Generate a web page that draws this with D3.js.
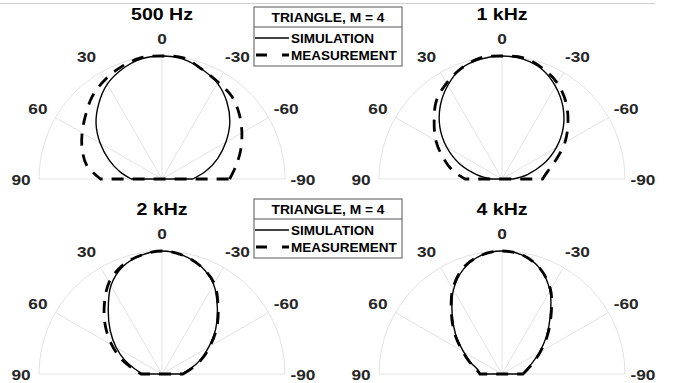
<!DOCTYPE html>
<html>
<head>
<meta charset="utf-8">
<script src="https://cdn.jsdelivr.net/npm/d3@7"></script>
<style>
    body { margin: 0; background: #fff; }
    svg { display: block; }
    text { font-family: "Liberation Sans", Arial, sans-serif; font-weight: bold; }
</style>
</head>
<body>
<script>
'use strict';

// angle in degrees, positive to the left of 0
var angles = [-90, -80, -70, -60, -50, -40, -30, -20, -10, 0, 10, 20, 30, 40, 50, 60, 70, 80, 90];
var thetaTicks = [-90, -60, -30, 0, 30, 60, 90];
var frequencies = ['500 Hz', '1 kHz', '2 kHz', '4 kHz'];
var seriesNames = ['SIMULATION', 'MEASUREMENT'];
var legendTitle = 'TRIANGLE, M = 4';

// normalized magnitude, one value per angle
var sim500 = [0.25, 0.36, 0.48, 0.60, 0.72, 0.82, 0.90, 0.95, 0.99, 1.00, 0.99, 0.95, 0.89, 0.80, 0.70, 0.58, 0.46, 0.35, 0.25];
var meas500 = [0.55, 0.61, 0.68, 0.75, 0.82, 0.88, 0.91, 0.95, 1.00, 1.00, 1.00, 0.97, 0.93, 0.88, 0.81, 0.75, 0.69, 0.62, 0.50];
var sim1k = [0.09, 0.21, 0.36, 0.51, 0.65, 0.77, 0.87, 0.95, 0.99, 1.00, 0.99, 0.96, 0.88, 0.78, 0.66, 0.52, 0.37, 0.21, 0.09];
var meas1k = [0.33, 0.38, 0.47, 0.59, 0.70, 0.81, 0.90, 0.96, 1.00, 1.00, 1.00, 0.96, 0.90, 0.83, 0.72, 0.62, 0.51, 0.41, 0.30];
var sim2k = [0.16, 0.23, 0.33, 0.44, 0.57, 0.70, 0.84, 0.93, 0.98, 1.00, 0.98, 0.93, 0.83, 0.68, 0.55, 0.43, 0.32, 0.22, 0.16];
var meas2k = [0.17, 0.24, 0.34, 0.45, 0.58, 0.71, 0.85, 0.93, 0.98, 1.00, 0.98, 0.94, 0.86, 0.73, 0.60, 0.47, 0.35, 0.24, 0.17];
var sim4k = [0.17, 0.20, 0.26, 0.35, 0.47, 0.61, 0.78, 0.91, 0.98, 1.00, 0.98, 0.91, 0.79, 0.63, 0.49, 0.36, 0.27, 0.20, 0.18];
var meas4k = [0.17, 0.21, 0.27, 0.36, 0.48, 0.62, 0.79, 0.91, 0.98, 1.00, 0.98, 0.92, 0.80, 0.64, 0.50, 0.37, 0.28, 0.21, 0.18];

var WIDTH = 679;
var HEIGHT = 383;
var R = 123;
var LABEL_R = 141;
var SX = 1.15; // text in the picture is drawn a bit wide

var panels = [
    { title: frequencies[0], sim: sim500, meas: meas500, cx: 162, cy: 179, ty: 20 },
    { title: frequencies[1], sim: sim1k, meas: meas1k, cx: 502, cy: 179, ty: 20 },
    { title: frequencies[2], sim: sim2k, meas: meas2k, cx: 162, cy: 374, ty: 215 },
    { title: frequencies[3], sim: sim4k, meas: meas4k, cx: 502, cy: 374, ty: 215 }
];
var legends = [{ x: 254, y: 7 }, { x: 254, y: 199 }];

var svg = d3.select('body').append('svg').attr('width', WIDTH).attr('height', HEIGHT);

var rScale = d3.scaleLinear().domain([0, 1]).range([0, R]);
// lineRadial angles run clockwise from 12 o'clock, ours run the other way
var aScale = d3.scaleLinear().domain([-90, 90]).range([Math.PI / 2, -Math.PI / 2]);

function label(sel, x, y, str, size, color) {
    return sel.append('text')
        .attr('transform', 'translate(' + x + ',' + y + ') scale(' + SX + ',1)')
        .attr('text-anchor', 'middle')
        .attr('font-size', size)
        .attr('fill', color || '#000')
        .text(str);
}

function curve(values) {
    var line = d3.lineRadial()
        .angle(function (d) { return aScale(d[0]); })
        .radius(function (d) { return rScale(d[1]); })
        .curve(d3.curveCatmullRom);
    // close along the 90 / -90 base line
    return line(d3.zip(angles, values)) + 'Z';
}

// thin frame line along the top of the figure
svg.append('line').attr('x1', 0).attr('x2', 655).attr('y1', 3.5).attr('y2', 3.5)
    .attr('stroke', '#cfcfcf').attr('stroke-width', 1);

panels.forEach(function (p) {
    var g = svg.append('g').attr('transform', 'translate(' + p.cx + ',' + p.cy + ')');

    // grid
    var arc = d3.path();
    arc.arc(0, 0, R, Math.PI, 2 * Math.PI);
    g.append('path').attr('d', arc.toString()).attr('fill', 'none')
        .attr('stroke', '#e3e3e3').attr('stroke-width', 1);
    g.selectAll('.spoke').data(thetaTicks).enter().append('line')
        .attr('class', 'spoke')
        .attr('x1', 0).attr('y1', 0)
        .attr('x2', function (d) { return R * Math.sin(aScale(d)); })
        .attr('y2', function (d) { return -R * Math.cos(aScale(d)); })
        .attr('stroke', '#e3e3e3').attr('stroke-width', 1);

    // theta labels, the +-30 ones sit a little further out
    thetaTicks.forEach(function (t) {
        var a = aScale(t);
        var nudge = Math.abs(t) === 30 ? 5 : (Math.abs(t) === 60 ? 2 : 0);
        var x = LABEL_R * Math.sin(a) + Math.sign(Math.sin(a)) * nudge;
        label(g, x, -LABEL_R * Math.cos(a) + 5.5, String(t), 15, '#262626');
    });

    g.append('path').attr('d', curve(p.meas)).attr('fill', 'none')
        .attr('stroke', '#000').attr('stroke-width', 2.8).attr('stroke-dasharray', '12,9');
    g.append('path').attr('d', curve(p.sim)).attr('fill', 'none')
        .attr('stroke', '#000').attr('stroke-width', 1.4);

    label(g, 0, p.ty - p.cy, p.title, 17, '#000');
});

legends.forEach(function (l) {
    var g = svg.append('g').attr('transform', 'translate(' + l.x + ',' + l.y + ')');
    var w = 148;
    g.append('rect').attr('x', 0).attr('y', 0).attr('width', w).attr('height', 59)
        .attr('fill', '#fff').attr('stroke', '#555').attr('stroke-width', 1);
    g.append('line').attr('x1', 0).attr('x2', w).attr('y1', 20).attr('y2', 20)
        .attr('stroke', '#555').attr('stroke-width', 1);
    label(g, w / 2, 14.5, legendTitle, 12, '#000');

    g.append('line').attr('x1', 1).attr('x2', 35).attr('y1', 31).attr('y2', 31)
        .attr('stroke', '#000').attr('stroke-width', 1.4);
    g.append('line').attr('x1', 2).attr('x2', 35).attr('y1', 48).attr('y2', 48)
        .attr('stroke', '#000').attr('stroke-width', 2.8).attr('stroke-dasharray', '11,15');

    seriesNames.forEach(function (s, i) {
        g.append('text')
            .attr('transform', 'translate(37,' + (35.5 + i * 17) + ') scale(1.04,1)')
            .attr('font-size', 13)
            .text(s);
    });
});
</script>
</body>
</html>
